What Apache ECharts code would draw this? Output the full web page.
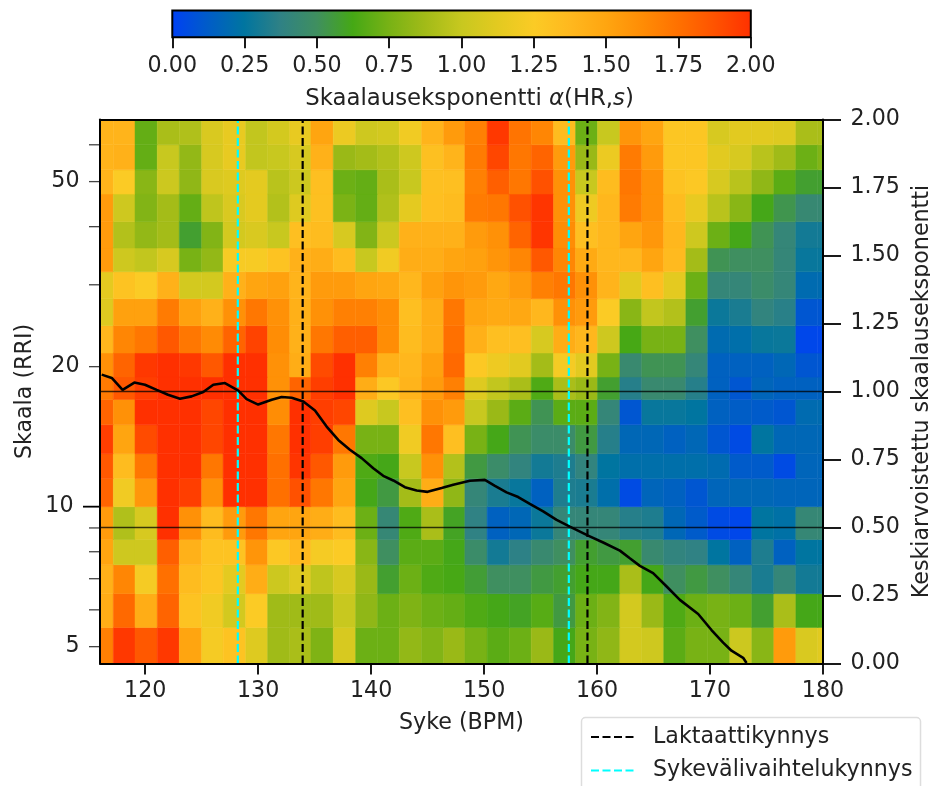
<!DOCTYPE html>
<html>
<head>
<meta charset="utf-8">
<style>html,body{margin:0;padding:0;background:#fff;overflow:hidden}#c{width:930px;height:786px}</style>
<script src="https://cdn.jsdelivr.net/npm/echarts@6/dist/echarts.min.js"></script>
</head>
<body>
<div id="c"></div>
<script>
// column edges (BPM) and row edges (scale)
const bpmEdges = [116,117.18,119.1,121.07,123.02,125,126.9,128.9,130.84,132.8,134.67,136.65,138.63,140.57,142.49,144.47,146.42,148.3,150.27,152.22,154.17,156.15,158.1,160.04,162.02,163.96,165.9,167.86,169.8,171.75,173.7,175.65,177.6,179.54,180];
const scaleEdges = [4.6,5.5,6.5,7.5,8.5,10,11.5,13,15,17,19,21.4,24.5,28,32,36,41,47,53,60,68];

// alpha(HR,s) per scale row, bottom row first
const row01 = [1.68,1.97,1.85,1.97,1.5,1.22,1.3,1.1,.87,.9,.77,1.07,.72,.72,.83,.78,.85,.75,.68,.72,.85,.62,.75,.82,1.05,1.03,.68,.75,.75,1.02,.8,1.55,1.08,1.12];
const row02 = [1.45,1.78,1.45,1.8,1.3,1.2,1.05,1.25,.87,.87,.87,1,.82,.72,.77,.72,.7,.65,.62,.6,.67,.55,.72,.78,1.05,.85,.65,.72,.75,.72,.58,.9,.62,.62];
const row03 = [1.42,1.65,1.22,1.75,1.35,1.28,1.13,1.45,1.02,1.1,.97,1.07,.85,.58,.72,.65,.63,.57,.5,.5,.55,.58,.62,.62,.9,.62,.5,.55,.5,.42,.32,.42,.3,.3];
const row04 = [1.5,1.03,1.03,1.82,1.42,1.3,1.3,1.58,1.27,1.37,1.22,1.25,.8,.5,.68,.68,.62,.47,.3,.37,.45,.5,.58,.55,.58,.45,.4,.38,.25,.15,.33,.15,.25,.25];
const row05 = [1.55,.92,1.07,2,1.6,1.35,1.55,1.72,1.5,1.5,1.45,1.35,.72,.43,.65,.9,.6,.38,.15,.18,.28,.42,.42,.42,.35,.33,.18,.12,.05,.03,.25,.23,.43,.43];
const row06 = [1.8,1.2,1.57,2,1.95,1.6,2,2,1.75,1.88,1.72,1.5,.62,.55,.88,1.45,.82,.42,.32,.27,.15,.33,.32,.22,.05,.17,.15,.1,.17,.18,.18,.17,.17,.17];
const row07 = [1.85,1.35,1.72,2,2,1.72,2,2,1.75,1.98,1.85,1.55,.65,.62,1,1.6,.93,.55,.47,.4,.3,.33,.4,.25,.22,.22,.22,.22,.2,.12,.12,.05,.17,.17];
const row08 = [1.95,1.5,1.9,2,2,1.92,2,2,1.72,2,1.95,1.72,.75,.75,1.2,1.72,1.33,.75,.62,.52,.47,.47,.55,.35,.18,.18,.15,.18,.1,.05,.25,.18,.18,.18];
const row09 = [1.8,1.6,2,2,2,1.92,2,2,1.62,2,1.95,1.92,1.1,1,1.33,1.6,1.55,1,.85,.68,.52,.68,.68,.42,.1,.27,.27,.25,.15,.13,.12,.1,.2,.2];
const row10 = [1.7,1.85,1.95,2,2,2,2,2,1.6,1.8,1.95,2,1.45,1.27,1.4,1.55,1.68,1.1,.98,.9,.65,.9,.85,.58,.35,.45,.45,.35,.15,.1,.17,.15,.15,.15];
const row11 = [1.6,1.8,1.97,2,1.97,1.85,2,2,1.6,1.45,1.9,2,1.68,1.42,1.38,1.52,1.78,1.27,1.18,1.12,.88,1.22,1.12,.75,.45,.52,.52,.42,.15,.15,.15,.18,.1,.1];
const row12 = [1.38,1.65,1.72,1.85,1.72,1.63,1.8,1.93,1.62,1.42,1.72,1.82,1.82,1.62,1.35,1.45,1.75,1.43,1.33,1.33,1.07,1.45,1.38,1.03,.63,.75,.75,.5,.2,.22,.27,.28,.03,.03];
const row13 = [1.1,1.52,1.52,1.7,1.52,1.42,1.6,1.72,1.6,1.43,1.6,1.68,1.68,1.62,1.33,1.45,1.72,1.5,1.47,1.48,1.38,1.6,1.55,1.25,.8,.98,.93,.58,.28,.32,.4,.36,.1,.1];
const row14 = [1.13,1.3,1.25,1.42,1.05,1.05,1.42,1.5,1.52,1.4,1.55,1.55,1.5,1.48,1.38,1.52,1.58,1.55,1.48,1.55,1.68,1.72,1.6,1.4,1.12,1.33,1.13,.72,.42,.42,.47,.42,.2,.2];
const row15 = [1.55,1.03,.98,1.07,.75,.83,1.23,1.23,1.3,1.42,1.45,1.35,1,1.2,1.45,1.45,1.5,1.52,1.58,1.65,1.85,1.65,1.47,1.38,1.38,1.5,1.36,.88,.52,.5,.5,.42,.27,.27];
const row16 = [1.55,.93,.83,.88,.58,.78,1.05,1.08,1,1.33,1.35,1.07,.78,1.02,1.42,1.42,1.42,1.55,1.6,1.8,1.98,1.62,1.33,1.38,1.5,1.57,1.38,1.03,.72,.62,.52,.42,.3,.3];
const row17 = [1.55,1.03,.78,.88,.7,.97,1.08,1.13,.93,1.1,1.32,.76,.7,.92,1.13,1.33,1.35,1.7,1.72,1.88,1.98,1.6,1.18,1.38,1.7,1.6,1.35,1.15,.95,.8,.62,.53,.44,.44];
const row18 = [1.4,1.25,.8,1.02,.82,1.08,1.1,1.13,.95,1.02,1.33,.72,.7,.9,1,1.32,1.33,1.68,1.82,1.72,1.88,1.6,1,1.35,1.72,1.6,1.3,1.27,1.07,.95,.82,.68,.58,.58];
const row19 = [1.4,1.42,.7,1,.83,1.07,1.15,.98,1,1.07,1.42,.85,.88,.93,1.03,1.32,1.4,1.7,1.92,1.72,1.8,1.55,.85,1.17,1.7,1.55,1.28,1.28,1.12,1.07,.95,.87,.72,.78];
const row20 = [1.4,1.4,.7,.9,.92,1.08,1.15,.98,1.05,1.15,1.5,1.17,1.03,1.05,1.2,1.4,1.55,1.68,1.97,1.73,1.65,1.35,.72,1,1.58,1.5,1.28,1.28,1.07,1.12,1.12,1.1,.9,.9];
const rows = [row01,row02,row03,row04,row05,row06,row07,row08,row09,row10,row11,row12,row13,row14,row15,row16,row17,row18,row19,row20];

// mean exponent curve
const curveBpm = [116.15,117.04,118,119.04,119.98,121.02,122.02,123.08,124.11,125.14,126.03,127.06,128.24,128.98,130,131.2,132.08,132.96,134,135.03,136.06,137.09,138.12,139.16,140.19,141.07,141.96,142.99,144.03,145,146.24,147.27,148.74,150.07,150.96,151.99,153.02,154.05,155.23,156.42,157.59,159.21,160.54,162.02,162.9,163.79,164.96,166.16,167.33,168.95,170.13,171.16,171.9,172.93,173.23];
const curveAlpha = [1.062,1.05,1.006,1.033,1.025,1.006,.988,.973,.982,.998,1.025,1.031,1.003,.972,.952,.97,.98,.977,.963,.93,.871,.822,.786,.755,.718,.69,.673,.648,.636,.631,.645,.657,.672,.675,.653,.629,.612,.587,.559,.528,.503,.47,.445,.415,.387,.359,.332,.283,.234,.182,.123,.077,.047,.021,.002];

const lactateBpm = [133.94,159.15];
const hrvBpm = [128.2,157.5];
const hLines = [1,0.5];

const bpmTicks = [120,130,140,150,160,170,180];
const scaleTicksLabelled = [5,10,20,50];
const scaleTicksPlain = [6,7,8,9,30,40,60];
const colorStops = ['#0040f5','#005cc8','#0075a0','#2f8185','#3f8f60','#45a815','#78b215','#a2bb18','#c8c81f','#e3ca20','#fbcb25','#ffb81e','#ffa510','#ff8c05','#ff7000','#ff5200','#ff3000'];

const FONT = '"DejaVu Sans"';
const INK = '#222';
const FS = 22.2;

const cells = [];
rows.forEach((r,i)=>r.forEach((v,j)=>cells.push([bpmEdges[j],bpmEdges[j+1],scaleEdges[i],scaleEdges[i+1],v])));

function vline(vals){const d=[];vals.forEach(v=>{d.push([v,0],[v,2],[null,null]);});return d;}

const yTickData = scaleTicksLabelled.map(v=>[v,1]).concat(scaleTicksPlain.map(v=>[v,0]));

const option = {
  animation:false,
  backgroundColor:'#fff',
  textStyle:{fontFamily:FONT,color:INK},
  grid:[
    {left:100,right:107,top:119.5,bottom:122.5,containLabel:false,outerBoundsMode:'none'},
    {left:172.3,top:10.5,width:578.5,height:26.7,containLabel:false,outerBoundsMode:'none'}
  ],
  visualMap:[{show:false,type:'continuous',min:0,max:2,dimension:4,seriesIndex:0,inRange:{color:colorStops}}],
  legend:{
    left:581.5,top:717.5,height:160,orient:'vertical',align:'left',
    padding:[8.5,8,40,8.5],itemGap:11.5,itemWidth:44,itemHeight:22,
    backgroundColor:'#fff',borderColor:'#ddd',borderWidth:1.5,borderRadius:4,
    itemStyle:{opacity:0},
    textStyle:{fontFamily:FONT,fontSize:FS,color:INK,padding:[0,0,0,13]},
    data:['Laktaattikynnys','Sykevälivaihtelukynnys']
  },
  xAxis:[
    {type:'value',gridIndex:0,min:116,max:180,position:'bottom',z:10,
      name:'Syke (BPM)',nameLocation:'middle',nameGap:49,nameTextStyle:{fontSize:FS,color:INK,fontFamily:FONT},
      axisLine:{lineStyle:{color:'#000',width:2}},
      axisTick:{customValues:bpmTicks,length:11,lineStyle:{color:'#000',width:1.8}},
      axisLabel:{customValues:bpmTicks,fontSize:FS,color:INK,margin:16.5,fontFamily:FONT},
      splitLine:{show:false}},
    {type:'value',gridIndex:0,min:116,max:180,position:'top',z:10,
      axisLine:{lineStyle:{color:'#000',width:2}},axisTick:{show:false},axisLabel:{show:false},splitLine:{show:false}},
    {type:'value',gridIndex:1,min:0,max:2,interval:.25,position:'bottom',z:10,
      name:'{a|Skaalauseksponentti }{i|α}{a|(HR,}{i|s}{a|)}',nameLocation:'middle',nameGap:50,
      nameTextStyle:{padding:[0,0,0,16],rich:{a:{fontSize:FS+.6,fontFamily:FONT,color:INK},i:{fontSize:FS+.6,fontFamily:FONT,fontStyle:'italic',color:INK}}},
      axisLine:{show:false},
      axisTick:{length:11,lineStyle:{color:'#000',width:1.8}},
      axisLabel:{fontSize:FS,color:INK,margin:18.5,fontFamily:FONT,formatter:v=>v.toFixed(2)},
      splitLine:{show:false}}
  ],
  yAxis:[
    {type:'log',gridIndex:0,min:4.6,max:68,logBase:10,position:'left',z:10,
      name:'Skaala (RRI)',nameLocation:'middle',nameGap:64,nameRotate:90,nameTextStyle:{fontSize:FS,color:INK,fontFamily:FONT},
      axisLine:{show:true,lineStyle:{color:'#000',width:2}},axisTick:{show:false},minorTick:{show:false},axisLabel:{show:false},splitLine:{show:false},minorSplitLine:{show:false}},
    {type:'value',gridIndex:0,min:0,max:2,interval:.25,position:'right',z:10,
      name:'Keskiarvoistettu skaalauseksponentti',nameLocation:'middle',nameGap:82,nameRotate:90,nameTextStyle:{fontSize:FS,color:INK,fontFamily:FONT},
      axisLine:{show:true,lineStyle:{color:'#000',width:2}},
      axisTick:{show:true,length:18,lineStyle:{color:'#000',width:1.8}},
      axisLabel:{fontSize:FS,color:INK,margin:27.5,fontFamily:FONT,formatter:v=>v.toFixed(2)},
      splitLine:{show:false}},
    {type:'value',gridIndex:1,min:0,max:1,show:false}
  ],
  series:[
    {type:'custom',name:'heat',xAxisIndex:0,yAxisIndex:0,z:2,clip:true,
      encode:{x:[0,1],y:[2,3]},data:cells,
      renderItem:(p,api)=>{
        const a=api.coord([api.value(0),api.value(2)]);
        const b=api.coord([api.value(1),api.value(3)]);
        return {type:'rect',shape:{x:a[0],y:b[1],width:b[0]-a[0],height:a[1]-b[1]},
          style:{fill:api.visual('color'),stroke:api.visual('color'),lineWidth:.5}};
      }},
    {type:'line',name:'refLines',xAxisIndex:0,yAxisIndex:1,z:4,symbol:'none',silent:true,
      data:hLines.flatMap(v=>[[116,v],[180,v],[null,null]]),connectNulls:false,
      lineStyle:{color:'#000',width:1.5,opacity:.75}},
    {type:'line',name:'Laktaattikynnys',xAxisIndex:0,yAxisIndex:1,z:5,symbol:'none',
      data:vline(lactateBpm),lineStyle:{color:'#000',width:2.2,type:[8,3.5]}},
    {type:'line',name:'Sykevälivaihtelukynnys',xAxisIndex:0,yAxisIndex:1,z:5,symbol:'none',
      data:vline(hrvBpm),lineStyle:{color:'#00ffff',width:2.2,type:[8,3.5]}},
    {type:'line',name:'curve',xAxisIndex:0,yAxisIndex:1,z:6,symbol:'none',
      data:curveBpm.map((x,i)=>[x,curveAlpha[i]]),lineStyle:{color:'#000',width:2.6}},
    {type:'custom',name:'scaleTicks',xAxisIndex:0,yAxisIndex:0,z:6,clip:false,silent:true,
      encode:{y:0},data:yTickData,
      renderItem:(p,api)=>{
        const v=api.value(0),labelled=api.value(1)===1;
        const c=api.coord([116,v]);
        const len=v===10?17:11;
        const children=[{type:'line',shape:{x1:c[0]-len,y1:c[1],x2:c[0],y2:c[1]},style:{stroke:v===10?'#000':'#444',lineWidth:v===10?1.8:1.3}}];
        if(labelled)children.push({type:'text',style:{text:String(v),x:c[0]-len-9.5,y:c[1],align:'right',verticalAlign:'middle',font:FS+'px '+FONT,fill:INK}});
        return {type:'group',children};
      }},
    {type:'custom',name:'colorbar',xAxisIndex:2,yAxisIndex:2,z:3,clip:false,silent:true,
      encode:{x:[0,1]},data:[[0,2]],
      renderItem:(p,api)=>{
        const a=api.coord([0,0]),b=api.coord([2,1]);
        const n=colorStops.length-1;
        return {type:'rect',shape:{x:a[0],y:b[1],width:b[0]-a[0],height:a[1]-b[1]},
          style:{stroke:'#000',lineWidth:2,fill:new echarts.graphic.LinearGradient(0,0,1,0,colorStops.map((c,i)=>({offset:i/n,color:c})))}};
      }}
  ]
};
const chart = echarts.init(document.getElementById('c'),null,{renderer:'canvas',width:930,height:786});
chart.setOption(option);
</script>
</body>
</html>
